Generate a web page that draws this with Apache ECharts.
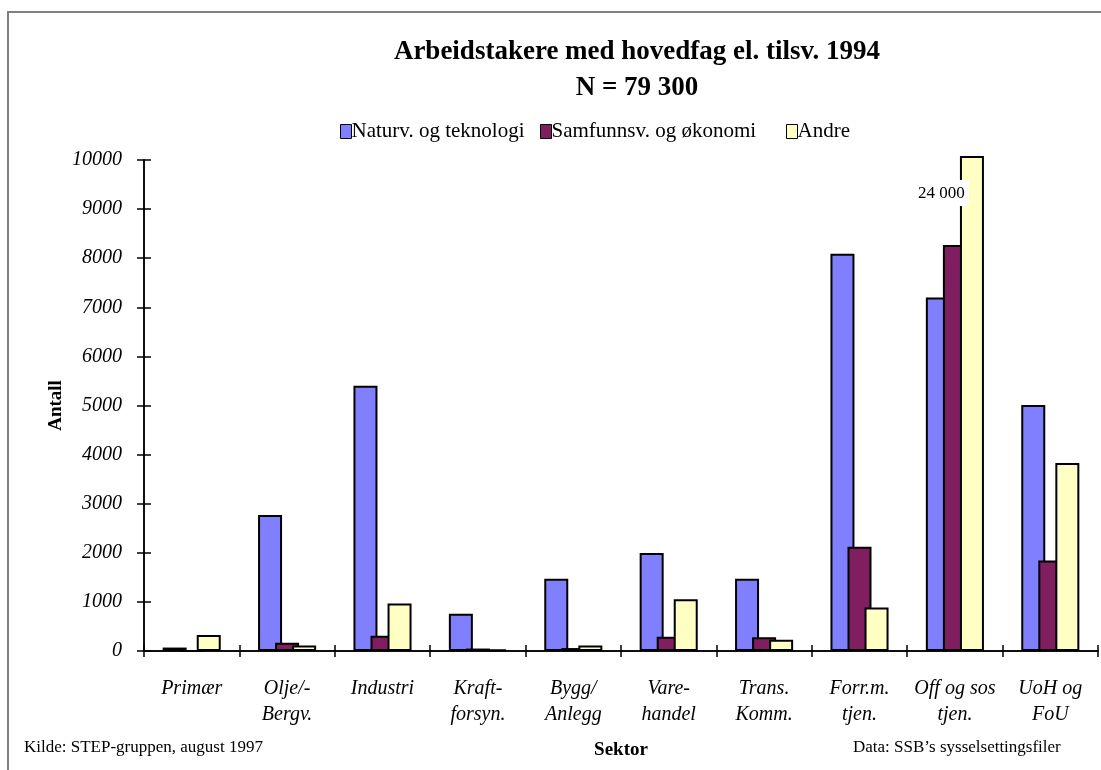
<!DOCTYPE html>
<html>
<head>
<meta charset="utf-8">
<script src="https://cdn.jsdelivr.net/npm/echarts@6/dist/echarts.min.js"></script>
<style>
html,body{margin:0;padding:0;background:#fff;}
#chart{width:1101px;height:770px;}
</style>
</head>
<body>
<div id="chart"></div>
<script>
const categories = ['Primær','Olje/-\nBergv.','Industri','Kraft-\nforsyn.','Bygg/\nAnlegg','Vare-\nhandel','Trans.\nKomm.','Forr.m.\ntjen.','Off og sos\ntjen.','UoH og\nFoU'];
const seriesNames = ['Naturv. og teknologi','Samfunnsv. og økonomi','Andre'];
const naturv = [70, 2770, 5400, 760, 1470, 1995, 1470, 8090, 7200, 5010];
const samf   = [0, 170, 310, 50, 60, 290, 280, 2125, 8270, 1845];
// Andre: bar for "Off og sos tjen." is drawn cut off just above the axis top; true value is labelled
const andre  = [325, 110, 965, 35, 110, 1055, 230, 885, 10080, 3830];
const andreLabels = ['', '', '', '', '', '', '', '', '24 000', ''];
const yTicks = [0, 1000, 2000, 3000, 4000, 5000, 6000, 7000, 8000, 9000, 10000];

const FONT = "'Liberation Serif','Times New Roman',serif";
const colors = ['#8080FF', '#7F1F5F', '#FFFFC4'];

const chart = echarts.init(document.getElementById('chart'));

function barSeries(name, data, color, labels) {
  return {
    name: name,
    type: 'bar',
    xAxisIndex: 0,
    yAxisIndex: 0,
    data: data.map((v, i) => {
      const item = { value: v };
      if (labels && labels[i]) {
        item.label = {
          show: true,
          formatter: labels[i],
          position: [-46, 24],
          backgroundColor: '#fff',
          padding: [5, 4, 4, 4],
          color: '#000',
          fontFamily: FONT,
          fontSize: 17
        };
      }
      return item;
    }),
    barWidth: 24,
    barGap: '-29%',
    clip: false,
    itemStyle: { color: color, borderColor: '#000', borderWidth: 2 },
    emphasis: { disabled: true }
  };
}

function legendFor(name, left) {
  return {
    data: [name],
    left: left,
    top: 116,
    icon: 'rect',
    itemWidth: 11,
    itemHeight: 14,
    textStyle: { fontFamily: FONT, fontSize: 21, color: '#000', padding: [0, 0, 0, -5] },
    itemStyle: { borderColor: '#000', borderWidth: 1 }
  };
}

const option = {
  animation: false,
  backgroundColor: '#fff',
  color: colors,
  graphic: [
    { type: 'rect', shape: { x: 8, y: 12, width: 1200, height: 900 }, style: { fill: 'none', stroke: '#808080', lineWidth: 2 }, z: -1 },
    { type: 'text', style: { text: 'Arbeidstakere med hovedfag el. tilsv. 1994', x: 637, y: 52, textAlign: 'center', textVerticalAlign: 'middle', font: 'bold 27px ' + FONT, fill: '#000' } },
    { type: 'text', style: { text: 'N = 79 300', x: 637, y: 88, textAlign: 'center', textVerticalAlign: 'middle', font: 'bold 27px ' + FONT, fill: '#000' } },
    { type: 'text', style: { text: 'Kilde: STEP-gruppen, august 1997', x: 24, y: 748, textAlign: 'left', textVerticalAlign: 'middle', font: '17px ' + FONT, fill: '#000' } },
    { type: 'text', style: { text: 'Data: SSB\u2019s sysselsettingsfiler', x: 853, y: 748, textAlign: 'left', textVerticalAlign: 'middle', font: '17px ' + FONT, fill: '#000' } }
  ],
  legend: [
    legendFor(seriesNames[0], 335),
    legendFor(seriesNames[1], 535),
    legendFor(seriesNames[2], 781)
  ],
  grid: { left: 144, right: 3, top: 160, bottom: 119, containLabel: false },
  xAxis: [
    {
      type: 'category',
      data: categories,
      position: 'bottom',
      boundaryGap: true,
      name: 'Sektor',
      nameLocation: 'middle',
      nameGap: 90,
      nameTextStyle: { fontFamily: FONT, fontSize: 19, fontWeight: 'bold', color: '#000' },
      axisLine: { lineStyle: { color: '#000', width: 1.5 } },
      axisTick: { show: true, length: 6, lineStyle: { color: '#000', width: 1.5 } },
      axisLabel: { fontFamily: FONT, fontStyle: 'italic', fontSize: 20, color: '#000', lineHeight: 26, margin: 25, interval: 0 },
      splitLine: { show: false }
    },
    {
      type: 'category',
      data: categories,
      position: 'bottom',
      offset: 0,
      boundaryGap: true,
      axisLine: { show: true, lineStyle: { color: '#000', width: 1.5 } },
      axisTick: { show: true, inside: true, length: 6, lineStyle: { color: '#000', width: 1.5 } },
      axisLabel: { show: false },
      splitLine: { show: false }
    }
  ],
  yAxis: [
    {
      type: 'value',
      min: yTicks[0],
      max: yTicks[yTicks.length - 1],
      interval: 1000,
      name: 'Antall',
      nameLocation: 'middle',
      nameRotate: 90,
      nameGap: 78,
      nameMoveOverlap: false,
      nameTextStyle: { fontFamily: FONT, fontSize: 19, fontWeight: 'bold', color: '#000' },
      axisLine: { show: true, lineStyle: { color: '#000', width: 1.5 } },
      axisTick: { show: true, length: 7, lineStyle: { color: '#000', width: 1.5 } },
      axisLabel: { fontFamily: FONT, fontStyle: 'italic', fontSize: 20, color: '#000', margin: 22, formatter: (v) => String(v) },
      splitLine: { show: false }
    },
    {
      type: 'value',
      position: 'left',
      offset: 0,
      min: yTicks[0],
      max: yTicks[yTicks.length - 1],
      interval: 1000,
      axisLine: { show: true, lineStyle: { color: '#000', width: 1.5 } },
      axisTick: { show: true, inside: true, length: 7, lineStyle: { color: '#000', width: 1.5 } },
      axisLabel: { show: false },
      splitLine: { show: false }
    }
  ],
  series: [
    barSeries(seriesNames[0], naturv, colors[0]),
    barSeries(seriesNames[1], samf, colors[1]),
    barSeries(seriesNames[2], andre, colors[2], andreLabels),
    {
      // invisible helper so the second (tick-only) axes are not blank
      name: '_ticks',
      type: 'line',
      xAxisIndex: 1,
      yAxisIndex: 1,
      data: naturv,
      showSymbol: false,
      symbol: 'none',
      silent: true,
      lineStyle: { width: 0, opacity: 0 },
      tooltip: { show: false },
      z: -5
    }
  ]
};

chart.setOption(option);
</script>
</body>
</html>
